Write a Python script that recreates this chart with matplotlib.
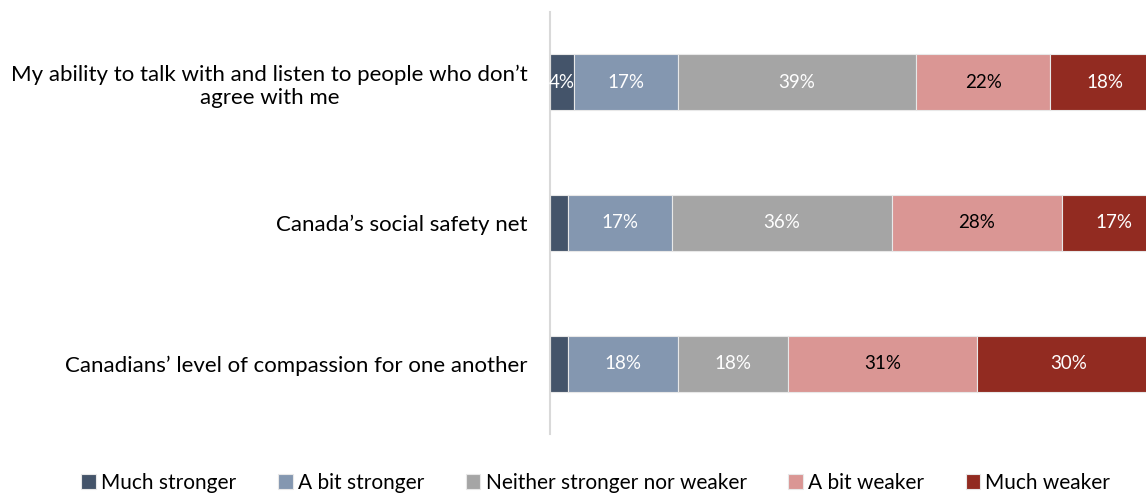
import matplotlib.pyplot as plt
import numpy as np

plt.rcParams['font.family'] = ['Lato', 'DejaVu Sans']

# survey items, top to bottom
categories = [
    "My ability to talk with and listen to people who don\u2019t\nagree with me",
    "Canada\u2019s social safety net",
    "Canadians\u2019 level of compassion for one another",
]
responses = ["Much stronger", "A bit stronger", "Neither stronger nor weaker",
             "A bit weaker", "Much weaker"]

much_stronger = [4, 3, 3]
bit_stronger = [17, 17, 18]
neither = [39, 36, 18]
bit_weaker = [22, 28, 31]
much_weaker = [18, 17, 30]

colors = ['#44546A', '#8497B0', '#A5A5A5', '#DA9694', '#922B21']
text_colors = ['white', 'white', 'white', 'black', 'white']
show_label = [[True, False, False], [True] * 3, [True] * 3, [True] * 3, [True] * 3]

series = [much_stronger, bit_stronger, neither, bit_weaker, much_weaker]

fig = plt.figure(figsize=(11.46, 4.95), dpi=100)
ax = fig.add_axes([550 / 1146, 1 - 434 / 495, 1 - 550 / 1146, 422 / 495])

y = np.arange(len(categories))
left = np.zeros(len(categories))
for vals, col, tcol, show, name in zip(series, colors, text_colors, show_label, responses):
    vals = np.array(vals, dtype=float)
    ax.barh(y, vals, left=left, height=0.4, color=col, edgecolor='#E8E8E8',
            linewidth=0.8, label=name)
    for i, v in enumerate(vals):
        if show[i]:
            ax.text(left[i] + v / 2, y[i], f"{int(v)}%", ha='center', va='center',
                    fontsize=13.5, color=tcol)
    left += vals

ax.set_xlim(0, 97.7)
ax.set_ylim(2.5, -0.5)
ax.set_yticks(y)
ax.set_yticklabels(categories, fontsize=16)
ax.tick_params(axis='y', length=0, pad=16)
ax.get_yticklabels()[0].set_multialignment('center')
ax.set_xticks([])
for s in ['top', 'right', 'bottom']:
    ax.spines[s].set_visible(False)
ax.spines['left'].set_color('#D9D9D9')
ax.spines['left'].set_linewidth(1.5)

fig.legend(loc='center', bbox_to_anchor=(0.52, 0.025), ncol=5, frameon=False,
           fontsize=15, handlelength=0.7, handleheight=0.7, handletextpad=0.25,
           columnspacing=2.0)

fig.savefig('out.png', dpi=100)
